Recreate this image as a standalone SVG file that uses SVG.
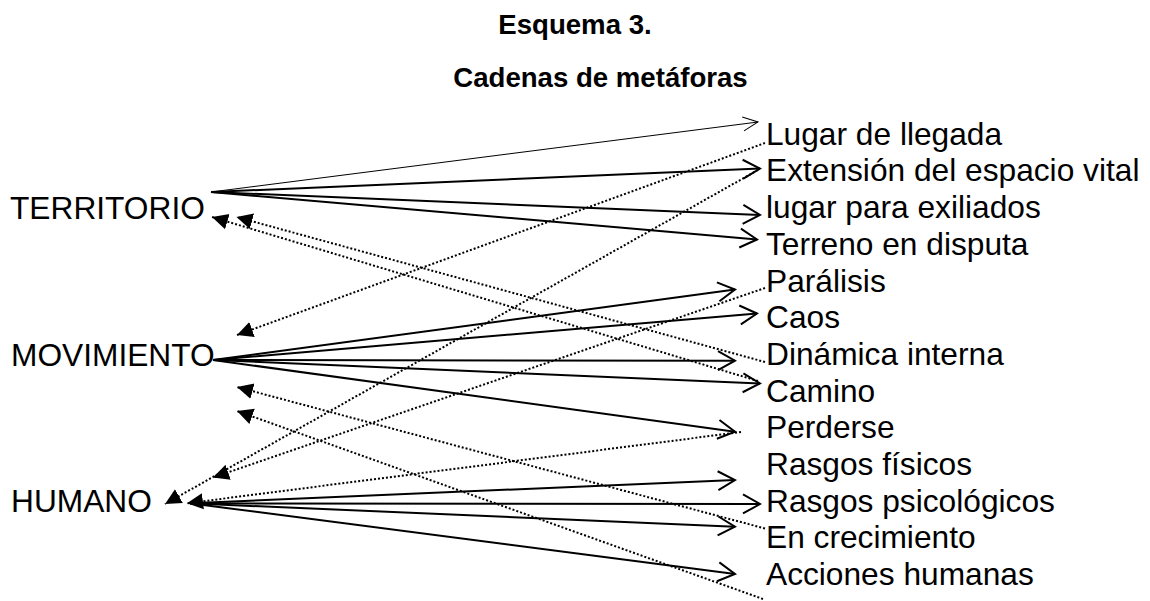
<svg xmlns="http://www.w3.org/2000/svg" width="1150" height="601" viewBox="0 0 1150 601">
<style>
text{font-family:"Liberation Sans",Arial,sans-serif;fill:#000}
.title{font-weight:bold;font-size:27.6px}
.lbl{font-size:31.7px}
.solid{fill:none;stroke:#000;stroke-width:2;marker-end:url(#open)}
.thin{fill:none;stroke:#000;stroke-width:1;marker-end:url(#openThin)}
.dot{fill:none;stroke:#000;stroke-width:2;stroke-dasharray:2 2;marker-end:url(#tri)}
</style>
<defs>
<marker id="open" markerUnits="userSpaceOnUse" viewBox="0 0 20 22" markerWidth="20" markerHeight="22" refX="18" refY="11" orient="auto">
<path d="M1,1.5 L18,11 L1,20.5" fill="none" stroke="#000" stroke-width="2" stroke-dasharray="none"/>
</marker>
<marker id="openThin" markerUnits="userSpaceOnUse" viewBox="0 0 18 18" markerWidth="18" markerHeight="18" refX="16" refY="9" orient="auto">
<path d="M1,2 L16,9 L1,16" fill="none" stroke="#000" stroke-width="1" stroke-dasharray="none"/>
</marker>
<marker id="tri" markerUnits="userSpaceOnUse" viewBox="0 0 18 18" markerWidth="18" markerHeight="18" refX="16" refY="9" orient="auto">
<path d="M0,1 L16,9 L0,17 Z" fill="#000" stroke="none"/>
</marker>
</defs>
<g id="title">
<text class="title" x="575" y="33.5" text-anchor="middle">Esquema 3.</text>
<text class="title" x="600.5" y="87" text-anchor="middle">Cadenas de metáforas</text>
</g>
<g id="n-territorio"><text class="lbl" x="10" y="219">TERRITORIO</text></g>
<g id="n-movimiento"><text class="lbl" x="11" y="365.5">MOVIMIENTO</text></g>
<g id="n-humano"><text class="lbl" x="11" y="512">HUMANO</text></g>
<g id="n-lugar-llegada"><text class="lbl" x="766" y="145">Lugar de llegada</text></g>
<g id="n-extension"><text class="lbl" x="766" y="181">Extensión del espacio vital</text></g>
<g id="n-exiliados"><text class="lbl" x="766" y="218.3">lugar para exiliados</text></g>
<g id="n-terreno"><text class="lbl" x="766" y="255">Terreno en disputa</text></g>
<g id="n-paralisis"><text class="lbl" x="766" y="291.7">Parálisis</text></g>
<g id="n-caos"><text class="lbl" x="766" y="328.3">Caos</text></g>
<g id="n-dinamica"><text class="lbl" x="766" y="365">Dinámica interna</text></g>
<g id="n-camino"><text class="lbl" x="766" y="401.7">Camino</text></g>
<g id="n-perderse"><text class="lbl" x="766" y="438.3">Perderse</text></g>
<g id="n-fisicos"><text class="lbl" x="766" y="475">Rasgos físicos</text></g>
<g id="n-psicologicos"><text class="lbl" x="766" y="511.7">Rasgos psicológicos</text></g>
<g id="n-crecimiento"><text class="lbl" x="766" y="548.3">En crecimiento</text></g>
<g id="n-acciones"><text class="lbl" x="766" y="585">Acciones humanas</text></g>
<g id="connectors">
<path class="thin" d="M211,192 L758,122"/>
<path class="solid" d="M211,192 L760,168.5"/>
<path class="solid" d="M211,192 L760,215"/>
<path class="solid" d="M211,192 L757,239.5"/>
<path class="solid" d="M213,360 L735,289.5"/>
<path class="solid" d="M213,360 L757,313.5"/>
<path class="solid" d="M213,360 L735,360.7"/>
<path class="solid" d="M213,360 L760,383.5"/>
<path class="solid" d="M213,360 L735,431.7"/>
<path class="solid" d="M190,503.3 L735,480"/>
<path class="solid" d="M190,503.3 L760,504"/>
<path class="solid" d="M190,503.3 L735,526.7"/>
<path class="solid" d="M190,503.3 L735,574"/>
<path class="dot" d="M765,143 L237,335"/>
<path class="dot" d="M758,170 L165,504"/>
<path class="dot" d="M765,288 L213,477.5"/>
<path class="dot" d="M765,362 L236.5,217"/>
<path class="dot" d="M758,381 L212,217"/>
<path class="dot" d="M741,432 L187,503.3"/>
<path class="dot" d="M765,528.5 L237,387"/>
<path class="dot" d="M763,599 L237,411"/>
</g>
</svg>
